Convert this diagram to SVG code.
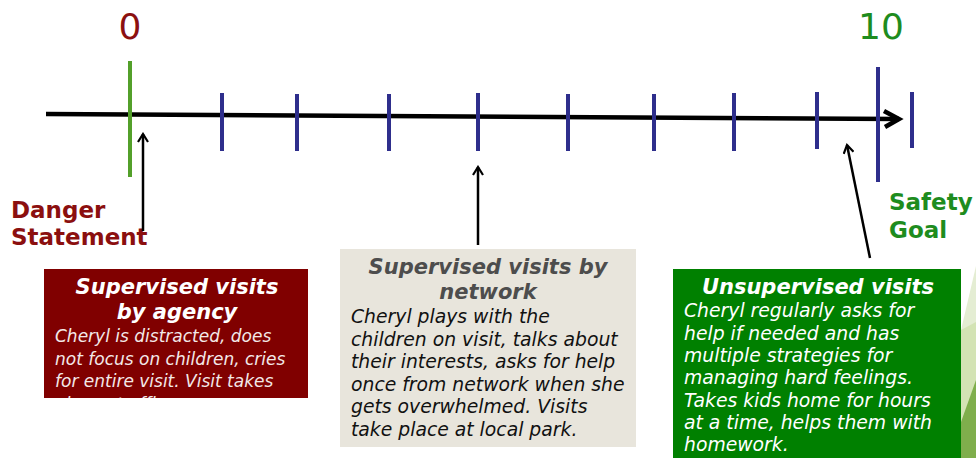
<svg xmlns="http://www.w3.org/2000/svg" width="976" height="458" viewBox="0 0 976 458">
<defs>
<style>
.tick{stroke:#2e2e8c;stroke-width:4}
.arr{stroke:#000;stroke-width:2.5;fill:none}
.num{font-family:"DejaVu Sans",Verdana,sans-serif;font-size:36px;text-anchor:middle}
.lbl{font-family:"DejaVu Sans",Verdana,sans-serif;font-size:23px;font-weight:bold}
.ttl{font-family:"DejaVu Sans",Verdana,sans-serif;font-size:21px;font-weight:bold;font-style:italic;text-anchor:middle}
.body{font-family:"DejaVu Sans",Verdana,sans-serif;font-size:17px;font-style:italic}
.big{font-size:18.8px}
</style>
<marker id="head" viewBox="0 0 12 12" refX="10" refY="6" markerWidth="12" markerHeight="12" markerUnits="userSpaceOnUse" orient="auto">
<path d="M2,1 L10,6 L2,11" fill="none" stroke="#000" stroke-width="2.2"/>
</marker>
<clipPath id="clip1"><rect x="44" y="269" width="264" height="129"/></clipPath>
</defs>
<rect width="976" height="458" fill="#fff"/>
<g id="decor">
<polygon points="961,330 976,266 976,458 961,458" fill="#e4edd3"/>
<polygon points="961,330 976,322 976,458 961,458" fill="#d3e3b4"/>
<polygon points="961,422 976,380 976,458 961,458" fill="#7fae4c"/>
</g>
<g id="axis">
<line x1="46" y1="114" x2="899" y2="119" stroke="#000" stroke-width="4.5"/>
<path d="M884,111 L899,119 L885,127" fill="none" stroke="#000" stroke-width="4.5"/>
<line x1="130" y1="61" x2="130" y2="177" stroke="#53a02a" stroke-width="4"/>
<line class="tick" x1="222" y1="93" x2="222" y2="151"/>
<line class="tick" x1="297" y1="94" x2="297" y2="151"/>
<line class="tick" x1="389" y1="94" x2="389" y2="151"/>
<line class="tick" x1="478" y1="93" x2="478" y2="151"/>
<line class="tick" x1="568" y1="94" x2="568" y2="151"/>
<line class="tick" x1="654" y1="94" x2="654" y2="151"/>
<line class="tick" x1="734" y1="93" x2="734" y2="151"/>
<line class="tick" x1="817" y1="92" x2="817" y2="149"/>
<line class="tick" x1="878" y1="67" x2="878" y2="182"/>
<line class="tick" x1="912" y1="92" x2="912" y2="148"/>
<text class="num" x="130" y="39" fill="#8b1010">0</text>
<text class="num" x="881" y="39" fill="#1e8c1e">10</text>
</g>
<g id="danger">
<text class="lbl" x="11" y="218" fill="#8b0f0f">Danger</text>
<text class="lbl" x="11" y="245" fill="#8b0f0f">Statement</text>
</g>
<g id="safety">
<text class="lbl" x="889" y="210" fill="#1e8c1e">Safety</text>
<text class="lbl" x="889" y="238" fill="#1e8c1e">Goal</text>
</g>
<g id="connectors">
<line class="arr" x1="143" y1="231" x2="143" y2="134" marker-end="url(#head)"/>
<line class="arr" x1="478" y1="245" x2="478" y2="167" marker-end="url(#head)"/>
<line class="arr" x1="870" y1="258" x2="847" y2="145" marker-end="url(#head)"/>
</g>
<g id="agency">
<rect x="44" y="269" width="264" height="129" fill="#800000"/>
<text class="ttl" x="177" y="294" fill="#fff">Supervised visits</text>
<text class="ttl" x="177" y="319" fill="#fff">by agency</text>
<g clip-path="url(#clip1)" fill="#f3e8e8">
<text class="body" x="55" y="342">Cheryl is distracted, does</text>
<text class="body" x="55" y="365">not focus on children, cries</text>
<text class="body" x="55" y="387">for entire visit. Visit takes</text>
<text class="body" x="55" y="410">place at office.</text>
</g>
</g>
<g id="network">
<rect x="340" y="249" width="296" height="198" fill="#e8e5dc"/>
<text class="ttl" x="488" y="274" fill="#4d4d4d">Supervised visits by</text>
<text class="ttl" x="488" y="299" fill="#4d4d4d">network</text>
<g fill="#111">
<text class="body big" x="351" y="323">Cheryl plays with the</text>
<text class="body big" x="351" y="346">children on visit, talks about</text>
<text class="body big" x="351" y="368">their interests, asks for help</text>
<text class="body big" x="351" y="391">once from network when she</text>
<text class="body big" x="351" y="413">gets overwhelmed. Visits</text>
<text class="body big" x="351" y="436">take place at local park.</text>
</g>
</g>
<g id="unsupervised">
<rect x="673" y="269" width="288" height="189" fill="#008000"/>
<text class="ttl" x="818" y="294" fill="#fff">Unsupervised visits</text>
<g fill="#fff">
<text class="body big" x="684" y="317">Cheryl regularly asks for</text>
<text class="body big" x="684" y="340">help if needed and has</text>
<text class="body big" x="684" y="362">multiple strategies for</text>
<text class="body big" x="684" y="384">managing hard feelings.</text>
<text class="body big" x="684" y="407">Takes kids home for hours</text>
<text class="body big" x="684" y="429">at a time, helps them with</text>
<text class="body big" x="684" y="451">homework.</text>
</g>
</g>
</svg>
